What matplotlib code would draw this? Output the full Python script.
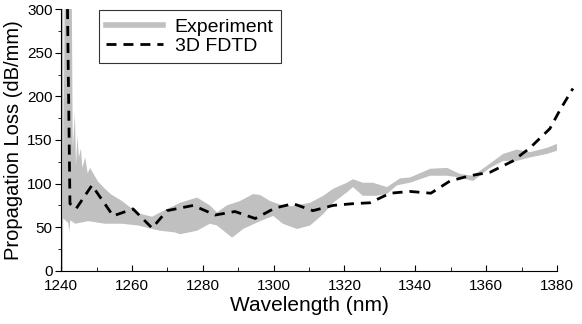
import numpy as np
import matplotlib.pyplot as plt
from matplotlib.ticker import MultipleLocator

plt.rcParams['font.family'] = ['Liberation Sans', 'DejaVu Sans']

# Experiment band: upper and lower envelopes (nm, dB/mm)
exp_upper_wl = [1240.0, 1240.6, 1240.7, 1241.0, 1243.0, 1243.3, 1243.9, 1244.2,
                1244.6, 1245.0, 1245.6, 1246.0, 1246.8, 1247.5, 1248.2, 1249.6,
                1250.5, 1252.4, 1254.0, 1257.2, 1261.7, 1265.7, 1268.0, 1273.6,
                1278.4, 1282.0, 1284.0, 1286.8, 1290.5, 1294.2, 1296.2, 1299.0,
                1301.8, 1305.0, 1310.3, 1314.0, 1316.8, 1320.7, 1322.4, 1325.2,
                1328.0, 1332.0, 1335.7, 1338.5, 1344.2, 1349.0, 1352.6, 1356.3,
                1361.1, 1364.8, 1368.7, 1372.4, 1377.2, 1380.3]
exp_upper = [320, 320, 130, 320, 320, 140, 180, 120,
             155, 130, 140, 118, 130, 112, 118, 108,
             102, 94, 88, 80, 66, 62, 67, 78,
             84, 75, 67, 75, 80, 88, 87, 80,
             76, 74, 78, 86, 94, 101, 105, 101,
             101, 96, 106, 107, 117, 118, 111, 109,
             123, 134, 139, 136, 141, 146]

exp_lower_wl = [1240.0, 1240.5, 1240.6, 1242.0, 1242.3, 1242.6, 1244.0, 1247.6,
                1252.4, 1257.2, 1261.7, 1265.7, 1268.0, 1272.2, 1273.6, 1278.4,
                1282.0, 1284.0, 1288.3, 1291.4, 1296.2, 1299.9, 1302.6, 1306.6,
                1310.3, 1314.0, 1316.8, 1320.7, 1322.4, 1325.2, 1329.0, 1332.0,
                1334.8, 1338.5, 1344.2, 1349.0, 1352.6, 1356.3, 1361.1, 1364.8,
                1368.7, 1372.4, 1377.2, 1380.3]
exp_lower = [0, 0, 60, 55, 45, 58, 54, 57,
             54, 54, 52, 48, 46, 44, 42, 46,
             54, 52, 38, 48, 57, 63, 54, 48,
             52, 65, 78, 90, 96, 86, 86, 88,
             98, 101, 109, 109, 107, 103, 118, 126,
             126, 130, 134, 138]

# 3D FDTD simulation
fdtd_wl = [1241.8, 1242.5, 1244.2, 1248.7, 1254.7, 1260.3, 1265.7, 1269.9,
           1277.3, 1283.5, 1289.1, 1294.8, 1300.4, 1305.5, 1311.1, 1316.8,
           1322.4, 1327.2, 1332.9, 1338.5, 1344.4, 1349.8, 1355.4, 1361.1,
           1367.6, 1372.4, 1378.0, 1380.8, 1384.5]
fdtd_loss = [300, 77, 71, 98, 63, 71, 49, 69,
             75, 64, 68, 60, 72, 77, 69, 75,
             77, 78, 89, 91, 89, 103, 109, 113,
             126, 141, 163, 184, 209]

fig = plt.figure(figsize=(5.82, 3.24), dpi=100)
ax = fig.add_axes([0.105, 0.164, 0.852, 0.808])

gray = '#c0c0c0'
ax.fill(np.r_[exp_upper_wl, exp_lower_wl[::-1]],
        np.r_[exp_upper, exp_lower[::-1]],
        color=gray, lw=0)
ax.plot([], [], color=gray, lw=4, label='Experiment')
ax.plot(fdtd_wl, fdtd_loss, color='black', lw=2, ls=(0, (3.6, 2.5)),
        clip_on=False, label='3D FDTD')

ax.set_xlim(1240, 1380)
ax.set_ylim(0, 300)
ax.xaxis.set_major_locator(MultipleLocator(20))
ax.xaxis.set_minor_locator(MultipleLocator(10))
ax.yaxis.set_major_locator(MultipleLocator(50))
ax.yaxis.set_minor_locator(MultipleLocator(25))
ax.tick_params(axis='x', which='both', direction='in', labelsize=11, pad=6)
ax.tick_params(axis='x', which='major', length=4)
ax.tick_params(axis='x', which='minor', length=3)
ax.tick_params(axis='y', which='both', direction='out', labelsize=11, pad=2)
ax.tick_params(axis='y', which='major', length=4)
ax.tick_params(axis='y', which='minor', length=2)
ax.spines['top'].set_visible(False)
ax.spines['right'].set_visible(False)

ax.set_xlabel('Wavelength (nm)', fontsize=15, labelpad=2)
ax.set_ylabel('Propagation Loss (dB/mm)', fontsize=14.5, labelpad=3)

leg = ax.legend(loc='upper left', bbox_to_anchor=(0.068, 1.01), fontsize=14,
                frameon=True, fancybox=False, handlelength=2.9,
                borderpad=0.4, borderaxespad=0.2, labelspacing=0.1,
                handletextpad=0.6)
leg.get_frame().set_edgecolor('black')
leg.get_frame().set_linewidth(0.8)

fig.savefig('out.png', dpi=100)
